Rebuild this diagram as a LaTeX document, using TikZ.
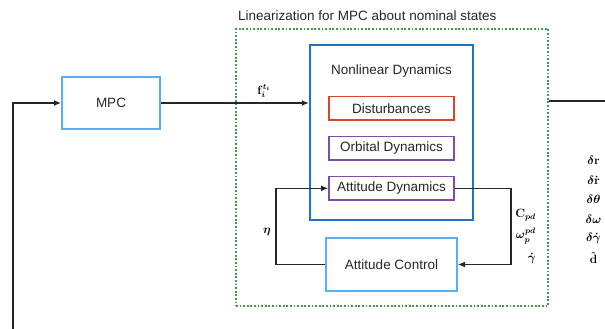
\documentclass[tikz,border=0pt]{standalone}
\usepackage{amsmath}
\usepackage{bm}
\usepackage{fontspec}
\setmainfont{Liberation Sans}
\usetikzlibrary{arrows.meta}
\definecolor{lblue}{HTML}{5DADF5}
\definecolor{dblue}{HTML}{1F74C4}
\definecolor{dred}{HTML}{D9472B}
\definecolor{purp}{HTML}{7E4FA6}
\definecolor{dgreen}{HTML}{3C9A50}
\definecolor{ink}{HTML}{262626}
\begin{document}
\begin{tikzpicture}[x=1pt,y=-1pt,
  txt/.style={font=\fontsize{13.5}{15}\selectfont, text=ink},
  bigbox/.style={draw=lblue, line width=2pt, inner sep=0pt, txt},
  sub/.style={line width=1.8pt, minimum width=125pt, minimum height=23.5pt, inner sep=0pt, txt},
  conn/.style={draw=ink, line width=1.2pt, -{Latex[length=7pt,width=6pt]}},
  wire/.style={draw=ink, line width=1.2pt},
  ml/.style={font=\fontsize{12}{14}\selectfont\boldmath, text=black, inner sep=0pt}]
\useasboundingbox (0,0) rectangle (605,329);

% linearization frame
\node[draw=dgreen, line width=1.5pt, dash pattern=on 1.8pt off 1.8pt,
      minimum width=312pt, minimum height=277pt, inner sep=0pt] (lin) at (392,167.5) {};
\node[txt, anchor=west, inner sep=0pt] (lintitle) at (238,16) {Linearization for MPC about nominal states};

% blocks
\node[bigbox, minimum width=98pt, minimum height=52pt] (mpc) at (111,103) {MPC};
\node[draw=dblue, line width=2.5pt, minimum width=163pt, minimum height=175pt, inner sep=0pt] (nld) at (391.5,132.5) {};
\node[txt, inner sep=0pt] (nldtitle) at (391.5,71) {Nonlinear Dynamics};
\node[sub, draw=dred] (dist) at (391.5,108.3) {Disturbances};
\node[sub, draw=purp] (orb) at (391.5,148.3) {Orbital Dynamics};
\node[sub, draw=purp] (att) at (391.5,188.3) {Attitude Dynamics};
\node[bigbox, minimum width=131pt, minimum height=53pt] (ac) at (391.5,264.5) {Attitude Control};

% connectors
\coordinate (fb) at (13,329);
\draw[conn] (fb) |- (mpc.west);
\draw[conn] (mpc.east) -- (mpc.east -| nld.west);
\coordinate (r1) at (511,188.3);
\draw[conn] (att.east) -- (r1) |- (ac.east);
\coordinate (l1) at (276,264.5);
\draw[conn] (ac.west) -- (l1) |- (att.west);
\coordinate (out) at (605,101);
\draw[wire] (out -| lin.east) -- (out);

% labels
\node[ml] (flab) at (264,91) {$\mathbf{f}_i^{t_i}$};
\node[ml] (eta) at (267,232) {$\bm{\eta}$};
\node[ml, anchor=east] (cpd) at (536,215) {$\mathbf{C}_{pd}$};
\node[ml, anchor=east] (wpd) at (536,236) {$\bm{\omega}_p^{pd}$};
\node[ml, anchor=east] (gd) at (536,258) {$\dot{\bm{\gamma}}$};
\node[ml] (s1) at (593.5,160) {$\delta\mathbf{r}$};
\node[ml] (s2) at (593.5,180) {$\delta\dot{\mathbf{r}}$};
\node[ml] (s3) at (593.5,199.5) {$\delta\bm{\theta}$};
\node[ml] (s4) at (593.5,219) {$\delta\bm{\omega}$};
\node[ml] (s5) at (593.5,238.5) {$\delta\dot{\bm{\gamma}}$};
\node[ml] (s6) at (593.5,258) {$\hat{\mathbf{d}}$};
\end{tikzpicture}
\end{document}
